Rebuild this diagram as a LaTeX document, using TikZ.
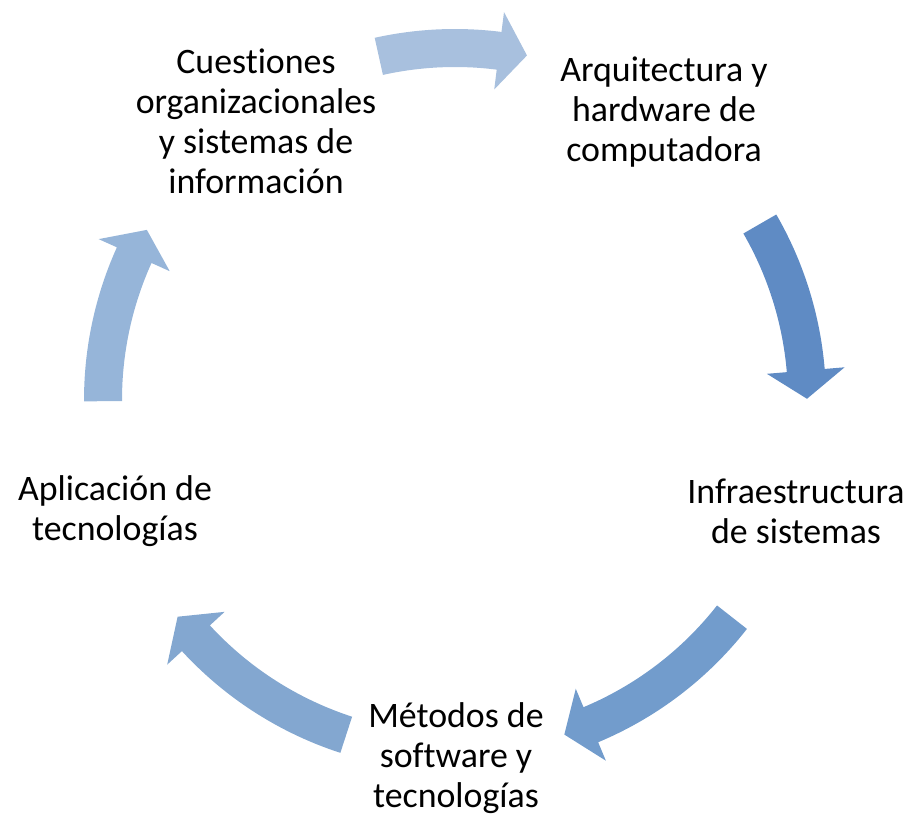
\documentclass[tikz,border=0pt]{standalone}
\usepackage{fontspec}
\setmainfont[RawFeature={-liga;-calt;-clig}]{Carlito}
\usepackage{tikz}
\usetikzlibrary{positioning}

\definecolor{arrowA}{HTML}{A8C0DE}
\definecolor{arrowB}{HTML}{5F8BC4}
\definecolor{arrowC}{HTML}{729CCC}
\definecolor{arrowD}{HTML}{83A7D0}
\definecolor{arrowE}{HTML}{96B5D9}

% block arc arrow on the cycle: colour, tail angle, tip angle
\newcommand{\cyclearrow}[3]{%
  \pgfmathsetmacro{\headbase}{#3+4.6}
  \fill[#1] plot[domain=#2:\headbase, samples=30] (\x:371)
    -- (\headbase:391) -- (#3:352) -- (\headbase:313)
    -- plot[domain=\headbase:#2, samples=30] (\x:333) -- cycle;
}

\begin{document}
\begin{tikzpicture}[
  x=0.02cm, y=0.02cm,
  step label/.style={align=center, inner sep=0pt,
    font=\fontsize{20.4}{22.7}\selectfont, text=black}
]
  \useasboundingbox (-455,-415) rectangle (457,400);

  \node[step label] (cues)  at (-199,279) {Cuestiones\\organizacionales\\y sistemas de\\información};
  \node[step label] (arq)   at (209,288)  {Arquitectura y\\hardware de\\computadora};
  \node[step label] (infra) at (341,-111) {Infraestructura\\de sistemas};
  \node[step label] (met)   at (1,-358)   {Métodos de\\software y\\tecnologías};
  \node[step label] (apl)   at (-340,-111) {Aplicación de\\tecnologías};

  \cyclearrow{arrowA}{102.5}{78.2}
  \cyclearrow{arrowB}{30}{0.2}
  \cyclearrow{arrowC}{-38.1}{-71.9}
  \cyclearrow{arrowD}{252}{218}
  \cyclearrow{arrowE}{180.2}{151.1}
\end{tikzpicture}
\end{document}
